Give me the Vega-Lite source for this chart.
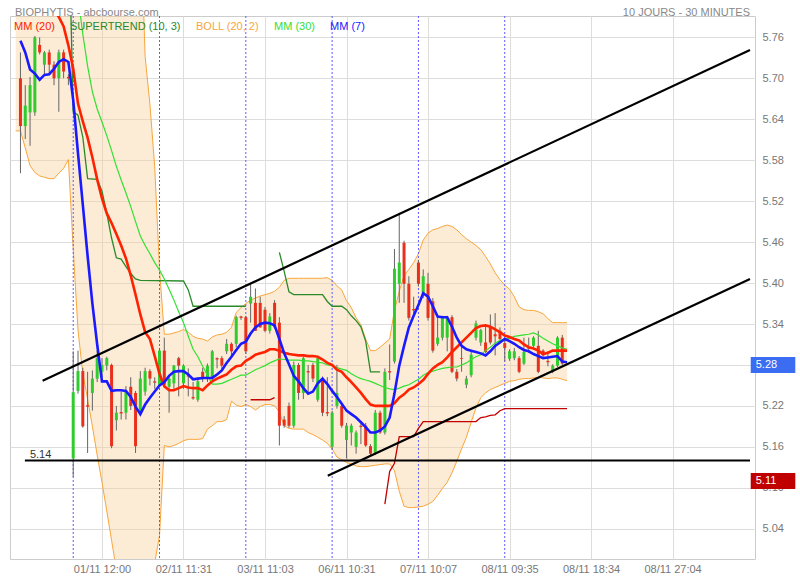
{
  "$schema": "https://vega.github.io/schema/vega-lite/v6.json",
  "width": 745,
  "height": 543,
  "autosize": "none",
  "padding": {"left": 10, "top": 16, "right": 45, "bottom": 21},
  "background": "white",
  "config": {"font": "Liberation Sans", "view": {"stroke": "#cccccc"}},
  "datasets": {
    "candles": [
      {"i":0,"o":5.700,"h":5.738,"l":5.561,"c":5.630},
      {"i":1,"o":5.630,"h":5.690,"l":5.611,"c":5.660},
      {"i":2,"o":5.650,"h":5.702,"l":5.601,"c":5.690},
      {"i":3,"o":5.650,"h":5.762,"l":5.645,"c":5.760},
      {"i":4,"o":5.749,"h":5.760,"l":5.735,"c":5.738},
      {"i":5,"o":5.720,"h":5.740,"l":5.705,"c":5.738},
      {"i":6,"o":5.738,"h":5.742,"l":5.708,"c":5.720},
      {"i":7,"o":5.720,"h":5.725,"l":5.690,"c":5.700},
      {"i":8,"o":5.700,"h":5.742,"l":5.651,"c":5.738},
      {"i":9,"o":5.738,"h":5.742,"l":5.700,"c":5.710},
      {"i":10,"o":5.702,"h":5.706,"l":5.690,"c":5.700},
      {"i":11,"o":5.143,"h":5.300,"l":5.116,"c":5.240},
      {"i":12,"o":5.242,"h":5.301,"l":5.238,"c":5.271},
      {"i":13,"o":5.271,"h":5.276,"l":5.188,"c":5.190},
      {"i":14,"o":5.221,"h":5.270,"l":5.151,"c":5.219},
      {"i":15,"o":5.239,"h":5.272,"l":5.213,"c":5.260},
      {"i":16,"o":5.260,"h":5.301,"l":5.255,"c":5.290},
      {"i":17,"o":5.270,"h":5.290,"l":5.262,"c":5.280},
      {"i":18,"o":5.279,"h":5.292,"l":5.272,"c":5.290},
      {"i":19,"o":5.280,"h":5.282,"l":5.158,"c":5.161},
      {"i":20,"o":5.199,"h":5.220,"l":5.184,"c":5.210},
      {"i":21,"o":5.211,"h":5.241,"l":5.200,"c":5.209},
      {"i":22,"o":5.210,"h":5.249,"l":5.200,"c":5.241},
      {"i":23,"o":5.248,"h":5.262,"l":5.214,"c":5.220},
      {"i":24,"o":5.239,"h":5.242,"l":5.151,"c":5.161},
      {"i":25,"o":5.210,"h":5.271,"l":5.205,"c":5.260},
      {"i":26,"o":5.241,"h":5.276,"l":5.235,"c":5.271},
      {"i":27,"o":5.271,"h":5.274,"l":5.250,"c":5.260},
      {"i":28,"o":5.256,"h":5.262,"l":5.245,"c":5.254},
      {"i":29,"o":5.251,"h":5.305,"l":5.248,"c":5.301},
      {"i":30,"o":5.301,"h":5.320,"l":5.246,"c":5.251},
      {"i":31,"o":5.248,"h":5.262,"l":5.210,"c":5.260},
      {"i":32,"o":5.253,"h":5.280,"l":5.245,"c":5.279},
      {"i":33,"o":5.290,"h":5.292,"l":5.234,"c":5.279},
      {"i":34,"o":5.253,"h":5.281,"l":5.245,"c":5.279},
      {"i":35,"o":5.265,"h":5.275,"l":5.234,"c":5.263},
      {"i":36,"o":5.233,"h":5.255,"l":5.229,"c":5.231},
      {"i":37,"o":5.229,"h":5.262,"l":5.226,"c":5.256},
      {"i":38,"o":5.270,"h":5.276,"l":5.255,"c":5.260},
      {"i":39,"o":5.260,"h":5.282,"l":5.255,"c":5.279},
      {"i":40,"o":5.260,"h":5.302,"l":5.258,"c":5.300},
      {"i":41,"o":5.290,"h":5.291,"l":5.275,"c":5.288},
      {"i":42,"o":5.290,"h":5.293,"l":5.272,"c":5.279},
      {"i":43,"o":5.300,"h":5.318,"l":5.296,"c":5.311},
      {"i":44,"o":5.311,"h":5.313,"l":5.292,"c":5.300},
      {"i":45,"o":5.311,"h":5.352,"l":5.306,"c":5.350},
      {"i":46,"o":5.351,"h":5.352,"l":5.346,"c":5.349},
      {"i":47,"o":5.350,"h":5.352,"l":5.296,"c":5.300},
      {"i":48,"o":5.370,"h":5.400,"l":5.342,"c":5.380},
      {"i":49,"o":5.371,"h":5.392,"l":5.330,"c":5.330},
      {"i":50,"o":5.371,"h":5.380,"l":5.335,"c":5.335},
      {"i":51,"o":5.361,"h":5.365,"l":5.328,"c":5.330},
      {"i":52,"o":5.330,"h":5.356,"l":5.326,"c":5.351},
      {"i":53,"o":5.371,"h":5.375,"l":5.333,"c":5.335},
      {"i":54,"o":5.342,"h":5.350,"l":5.162,"c":5.191},
      {"i":55,"o":5.200,"h":5.205,"l":5.188,"c":5.191},
      {"i":56,"o":5.220,"h":5.225,"l":5.188,"c":5.191},
      {"i":57,"o":5.191,"h":5.285,"l":5.188,"c":5.280},
      {"i":58,"o":5.280,"h":5.283,"l":5.229,"c":5.239},
      {"i":59,"o":5.239,"h":5.292,"l":5.230,"c":5.290},
      {"i":60,"o":5.271,"h":5.280,"l":5.240,"c":5.269},
      {"i":61,"o":5.280,"h":5.283,"l":5.255,"c":5.260},
      {"i":62,"o":5.229,"h":5.292,"l":5.226,"c":5.290},
      {"i":63,"o":5.260,"h":5.263,"l":5.205,"c":5.210},
      {"i":64,"o":5.211,"h":5.262,"l":5.205,"c":5.209},
      {"i":65,"o":5.160,"h":5.213,"l":5.156,"c":5.210},
      {"i":66,"o":5.220,"h":5.280,"l":5.216,"c":5.239},
      {"i":67,"o":5.220,"h":5.223,"l":5.188,"c":5.191},
      {"i":68,"o":5.170,"h":5.195,"l":5.143,"c":5.191},
      {"i":69,"o":5.181,"h":5.194,"l":5.162,"c":5.191},
      {"i":70,"o":5.160,"h":5.184,"l":5.150,"c":5.181},
      {"i":71,"o":5.191,"h":5.194,"l":5.164,"c":5.189},
      {"i":72,"o":5.191,"h":5.195,"l":5.160,"c":5.162},
      {"i":73,"o":5.161,"h":5.164,"l":5.148,"c":5.150},
      {"i":74,"o":5.150,"h":5.214,"l":5.148,"c":5.210},
      {"i":75,"o":5.210,"h":5.213,"l":5.179,"c":5.181},
      {"i":76,"o":5.181,"h":5.275,"l":5.178,"c":5.270},
      {"i":77,"o":5.271,"h":5.310,"l":5.258,"c":5.269},
      {"i":78,"o":5.285,"h":5.450,"l":5.282,"c":5.421},
      {"i":79,"o":5.399,"h":5.503,"l":5.371,"c":5.430},
      {"i":80,"o":5.459,"h":5.462,"l":5.371,"c":5.399},
      {"i":81,"o":5.399,"h":5.410,"l":5.345,"c":5.349},
      {"i":82,"o":5.362,"h":5.380,"l":5.350,"c":5.360},
      {"i":83,"o":5.430,"h":5.434,"l":5.395,"c":5.399},
      {"i":84,"o":5.383,"h":5.420,"l":5.378,"c":5.410},
      {"i":85,"o":5.399,"h":5.415,"l":5.345,"c":5.349},
      {"i":86,"o":5.373,"h":5.378,"l":5.298,"c":5.301},
      {"i":87,"o":5.311,"h":5.350,"l":5.308,"c":5.320},
      {"i":88,"o":5.320,"h":5.352,"l":5.316,"c":5.349},
      {"i":89,"o":5.320,"h":5.352,"l":5.300,"c":5.349},
      {"i":90,"o":5.350,"h":5.353,"l":5.268,"c":5.270},
      {"i":91,"o":5.270,"h":5.274,"l":5.256,"c":5.260},
      {"i":92,"o":5.290,"h":5.310,"l":5.270,"c":5.289},
      {"i":93,"o":5.251,"h":5.264,"l":5.246,"c":5.260},
      {"i":94,"o":5.265,"h":5.300,"l":5.262,"c":5.295},
      {"i":95,"o":5.320,"h":5.345,"l":5.316,"c":5.341},
      {"i":96,"o":5.313,"h":5.333,"l":5.308,"c":5.331},
      {"i":97,"o":5.313,"h":5.339,"l":5.297,"c":5.299},
      {"i":98,"o":5.335,"h":5.354,"l":5.310,"c":5.313},
      {"i":99,"o":5.325,"h":5.356,"l":5.294,"c":5.322},
      {"i":100,"o":5.330,"h":5.335,"l":5.312,"c":5.318},
      {"i":101,"o":5.312,"h":5.318,"l":5.285,"c":5.305},
      {"i":102,"o":5.289,"h":5.303,"l":5.286,"c":5.300},
      {"i":103,"o":5.290,"h":5.305,"l":5.287,"c":5.300},
      {"i":104,"o":5.290,"h":5.293,"l":5.268,"c":5.270},
      {"i":105,"o":5.282,"h":5.320,"l":5.280,"c":5.299},
      {"i":106,"o":5.306,"h":5.320,"l":5.298,"c":5.304},
      {"i":107,"o":5.308,"h":5.322,"l":5.306,"c":5.320},
      {"i":108,"o":5.308,"h":5.330,"l":5.268,"c":5.270},
      {"i":109,"o":5.301,"h":5.303,"l":5.292,"c":5.294},
      {"i":110,"o":5.286,"h":5.300,"l":5.278,"c":5.284},
      {"i":111,"o":5.270,"h":5.281,"l":5.268,"c":5.279},
      {"i":112,"o":5.279,"h":5.322,"l":5.277,"c":5.320},
      {"i":113,"o":5.320,"h":5.324,"l":5.280,"c":5.282}
    ],
    "ind": [
      {"i":-1,"hi":5.80,"lo":5.623,"mm20":null,"mm30":null,"mm7":null},
      {"i":0,"hi":5.80,"lo":5.623,"mm20":5.83,"mm30":null,"mm7":5.755},
      {"i":1,"hi":5.80,"lo":5.598,"mm20":5.83,"mm30":null,"mm7":5.738},
      {"i":2,"hi":5.80,"lo":5.572,"mm20":5.825,"mm30":null,"mm7":5.713},
      {"i":3,"hi":5.80,"lo":5.562,"mm20":5.82,"mm30":null,"mm7":5.707},
      {"i":4,"hi":5.80,"lo":5.557,"mm20":5.815,"mm30":null,"mm7":5.698},
      {"i":5,"hi":5.80,"lo":5.555,"mm20":5.81,"mm30":null,"mm7":5.705},
      {"i":6,"hi":5.80,"lo":5.553,"mm20":5.805,"mm30":null,"mm7":5.706},
      {"i":7,"hi":5.80,"lo":5.553,"mm20":5.80,"mm30":null,"mm7":5.714},
      {"i":8,"hi":5.80,"lo":5.561,"mm20":5.79,"mm30":null,"mm7":5.724},
      {"i":9,"hi":5.80,"lo":5.568,"mm20":5.776,"mm30":null,"mm7":5.728},
      {"i":10,"hi":5.80,"lo":5.581,"mm20":5.748,"mm30":null,"mm7":5.724},
      {"i":11,"hi":5.95,"lo":5.45,"mm20":5.714,"mm30":null,"mm7":5.668},
      {"i":12,"hi":5.95,"lo":5.331,"mm20":5.663,"mm30":5.82,"mm7":5.59},
      {"i":13,"hi":5.95,"lo":5.267,"mm20":5.637,"mm30":5.765,"mm7":5.515},
      {"i":14,"hi":5.95,"lo":5.23,"mm20":5.613,"mm30":5.718,"mm7":5.44},
      {"i":15,"hi":5.95,"lo":5.19,"mm20":5.584,"mm30":5.68,"mm7":5.37},
      {"i":16,"hi":5.95,"lo":5.148,"mm20":5.552,"mm30":5.655,"mm7":5.31},
      {"i":17,"hi":5.95,"lo":5.108,"mm20":5.524,"mm30":5.636,"mm7":5.256},
      {"i":18,"hi":5.95,"lo":5.066,"mm20":5.502,"mm30":5.616,"mm7":5.256},
      {"i":19,"hi":5.95,"lo":5.023,"mm20":5.488,"mm30":5.594,"mm7":5.242},
      {"i":20,"hi":5.95,"lo":4.98,"mm20":5.472,"mm30":5.571,"mm7":5.243},
      {"i":21,"hi":5.95,"lo":4.95,"mm20":5.455,"mm30":5.551,"mm7":5.243},
      {"i":22,"hi":5.95,"lo":4.93,"mm20":5.436,"mm30":5.532,"mm7":5.242},
      {"i":23,"hi":5.95,"lo":4.92,"mm20":5.411,"mm30":5.512,"mm7":5.233},
      {"i":24,"hi":5.95,"lo":4.92,"mm20":5.383,"mm30":5.49,"mm7":5.219},
      {"i":25,"hi":5.95,"lo":4.93,"mm20":5.354,"mm30":5.469,"mm7":5.208},
      {"i":26,"hi":5.732,"lo":4.95,"mm20":5.328,"mm30":5.455,"mm7":5.222},
      {"i":27,"hi":5.662,"lo":4.97,"mm20":5.318,"mm30":5.443,"mm7":5.232},
      {"i":28,"hi":5.57,"lo":4.99,"mm20":5.293,"mm30":5.43,"mm7":5.241},
      {"i":29,"hi":5.42,"lo":5.03,"mm20":5.267,"mm30":5.419,"mm7":5.25},
      {"i":30,"hi":5.325,"lo":5.162,"mm20":5.249,"mm30":5.406,"mm7":5.255},
      {"i":31,"hi":5.325,"lo":5.16,"mm20":5.243,"mm30":5.391,"mm7":5.264},
      {"i":32,"hi":5.327,"lo":5.162,"mm20":5.243,"mm30":5.375,"mm7":5.27},
      {"i":33,"hi":5.329,"lo":5.165,"mm20":5.246,"mm30":5.358,"mm7":5.271},
      {"i":34,"hi":5.332,"lo":5.169,"mm20":5.249,"mm30":5.342,"mm7":5.271},
      {"i":35,"hi":5.328,"lo":5.171,"mm20":5.247,"mm30":5.322,"mm7":5.266},
      {"i":36,"hi":5.322,"lo":5.171,"mm20":5.246,"mm30":5.303,"mm7":5.259},
      {"i":37,"hi":5.319,"lo":5.171,"mm20":5.246,"mm30":5.292,"mm7":5.26},
      {"i":38,"hi":5.318,"lo":5.172,"mm20":5.243,"mm30":5.278,"mm7":5.261},
      {"i":39,"hi":5.315,"lo":5.186,"mm20":5.25,"mm30":5.265,"mm7":5.261},
      {"i":40,"hi":5.321,"lo":5.191,"mm20":5.256,"mm30":5.252,"mm7":5.261},
      {"i":41,"hi":5.324,"lo":5.197,"mm20":5.26,"mm30":5.252,"mm7":5.266},
      {"i":42,"hi":5.325,"lo":5.197,"mm20":5.263,"mm30":5.253,"mm7":5.272},
      {"i":43,"hi":5.328,"lo":5.20,"mm20":5.266,"mm30":5.256,"mm7":5.283},
      {"i":44,"hi":5.335,"lo":5.227,"mm20":5.273,"mm30":5.259,"mm7":5.292},
      {"i":45,"hi":5.357,"lo":5.221,"mm20":5.278,"mm30":5.262,"mm7":5.302},
      {"i":46,"hi":5.364,"lo":5.219,"mm20":5.279,"mm30":5.265,"mm7":5.311},
      {"i":47,"hi":5.37,"lo":5.222,"mm20":5.286,"mm30":5.265,"mm7":5.314},
      {"i":48,"hi":5.375,"lo":5.219,"mm20":5.29,"mm30":5.269,"mm7":5.326},
      {"i":49,"hi":5.378,"lo":5.214,"mm20":5.295,"mm30":5.273,"mm7":5.335},
      {"i":50,"hi":5.381,"lo":5.219,"mm20":5.297,"mm30":5.276,"mm7":5.34},
      {"i":51,"hi":5.383,"lo":5.222,"mm20":5.299,"mm30":5.279,"mm7":5.342},
      {"i":52,"hi":5.385,"lo":5.222,"mm20":5.303,"mm30":5.283,"mm7":5.341},
      {"i":53,"hi":5.388,"lo":5.22,"mm20":5.303,"mm30":5.286,"mm7":5.338},
      {"i":54,"hi":5.394,"lo":5.211,"mm20":5.301,"mm30":5.289,"mm7":5.318},
      {"i":55,"hi":5.404,"lo":5.191,"mm20":5.298,"mm30":5.288,"mm7":5.297},
      {"i":56,"hi":5.407,"lo":5.187,"mm20":5.296,"mm30":5.287,"mm7":5.281},
      {"i":57,"hi":5.407,"lo":5.186,"mm20":5.295,"mm30":5.287,"mm7":5.264},
      {"i":58,"hi":5.407,"lo":5.186,"mm20":5.294,"mm30":5.287,"mm7":5.256},
      {"i":59,"hi":5.407,"lo":5.186,"mm20":5.294,"mm30":5.286,"mm7":5.246},
      {"i":60,"hi":5.407,"lo":5.181,"mm20":5.293,"mm30":5.286,"mm7":5.238},
      {"i":61,"hi":5.407,"lo":5.178,"mm20":5.293,"mm30":5.285,"mm7":5.241},
      {"i":62,"hi":5.407,"lo":5.174,"mm20":5.292,"mm30":5.284,"mm7":5.253},
      {"i":63,"hi":5.407,"lo":5.17,"mm20":5.288,"mm30":5.283,"mm7":5.26},
      {"i":64,"hi":5.408,"lo":5.165,"mm20":5.283,"mm30":5.28,"mm7":5.252},
      {"i":65,"hi":5.404,"lo":5.157,"mm20":5.28,"mm30":5.279,"mm7":5.242},
      {"i":66,"hi":5.396,"lo":5.145,"mm20":5.273,"mm30":5.276,"mm7":5.233},
      {"i":67,"hi":5.39,"lo":5.141,"mm20":5.27,"mm30":5.274,"mm7":5.223},
      {"i":68,"hi":5.374,"lo":5.137,"mm20":5.262,"mm30":5.272,"mm7":5.213},
      {"i":69,"hi":5.364,"lo":5.135,"mm20":5.255,"mm30":5.267,"mm7":5.208},
      {"i":70,"hi":5.349,"lo":5.132,"mm20":5.247,"mm30":5.263,"mm7":5.203},
      {"i":71,"hi":5.339,"lo":5.131,"mm20":5.239,"mm30":5.26,"mm7":5.196},
      {"i":72,"hi":5.318,"lo":5.131,"mm20":5.23,"mm30":5.258,"mm7":5.189},
      {"i":73,"hi":5.301,"lo":5.132,"mm20":5.222,"mm30":5.256,"mm7":5.181},
      {"i":74,"hi":5.301,"lo":5.133,"mm20":5.22,"mm30":5.253,"mm7":5.181},
      {"i":75,"hi":5.306,"lo":5.134,"mm20":5.22,"mm30":5.25,"mm7":5.184},
      {"i":76,"hi":5.312,"lo":5.135,"mm20":5.22,"mm30":5.247,"mm7":5.19},
      {"i":77,"hi":5.318,"lo":5.135,"mm20":5.22,"mm30":5.245,"mm7":5.203},
      {"i":78,"hi":5.36,"lo":5.125,"mm20":5.224,"mm30":5.244,"mm7":5.238},
      {"i":79,"hi":5.388,"lo":5.095,"mm20":5.232,"mm30":5.246,"mm7":5.279},
      {"i":80,"hi":5.411,"lo":5.073,"mm20":5.237,"mm30":5.249,"mm7":5.308},
      {"i":81,"hi":5.42,"lo":5.071,"mm20":5.244,"mm30":5.251,"mm7":5.335},
      {"i":82,"hi":5.43,"lo":5.071,"mm20":5.247,"mm30":5.255,"mm7":5.352},
      {"i":83,"hi":5.443,"lo":5.072,"mm20":5.252,"mm30":5.259,"mm7":5.368},
      {"i":84,"hi":5.463,"lo":5.073,"mm20":5.258,"mm30":5.265,"mm7":5.385},
      {"i":85,"hi":5.473,"lo":5.076,"mm20":5.267,"mm30":5.269,"mm7":5.38},
      {"i":86,"hi":5.478,"lo":5.08,"mm20":5.275,"mm30":5.271,"mm7":5.366},
      {"i":87,"hi":5.48,"lo":5.089,"mm20":5.28,"mm30":5.273,"mm7":5.351},
      {"i":88,"hi":5.483,"lo":5.099,"mm20":5.284,"mm30":5.275,"mm7":5.35},
      {"i":89,"hi":5.485,"lo":5.108,"mm20":5.291,"mm30":5.276,"mm7":5.35},
      {"i":90,"hi":5.483,"lo":5.122,"mm20":5.299,"mm30":5.277,"mm7":5.336},
      {"i":91,"hi":5.478,"lo":5.139,"mm20":5.306,"mm30":5.277,"mm7":5.32},
      {"i":92,"hi":5.471,"lo":5.157,"mm20":5.313,"mm30":5.28,"mm7":5.308},
      {"i":93,"hi":5.465,"lo":5.174,"mm20":5.32,"mm30":5.283,"mm7":5.303},
      {"i":94,"hi":5.46,"lo":5.196,"mm20":5.327,"mm30":5.288,"mm7":5.301},
      {"i":95,"hi":5.455,"lo":5.217,"mm20":5.334,"mm30":5.292,"mm7":5.299},
      {"i":96,"hi":5.449,"lo":5.232,"mm20":5.337,"mm30":5.295,"mm7":5.297},
      {"i":97,"hi":5.439,"lo":5.239,"mm20":5.338,"mm30":5.301,"mm7":5.294},
      {"i":98,"hi":5.428,"lo":5.244,"mm20":5.336,"mm30":5.306,"mm7":5.30},
      {"i":99,"hi":5.415,"lo":5.247,"mm20":5.332,"mm30":5.312,"mm7":5.308},
      {"i":100,"hi":5.405,"lo":5.25,"mm20":5.328,"mm30":5.316,"mm7":5.313},
      {"i":101,"hi":5.397,"lo":5.253,"mm20":5.323,"mm30":5.318,"mm7":5.318},
      {"i":102,"hi":5.391,"lo":5.256,"mm20":5.321,"mm30":5.319,"mm7":5.315},
      {"i":103,"hi":5.38,"lo":5.257,"mm20":5.318,"mm30":5.322,"mm7":5.311},
      {"i":104,"hi":5.365,"lo":5.259,"mm20":5.316,"mm30":5.323,"mm7":5.306},
      {"i":105,"hi":5.361,"lo":5.26,"mm20":5.31,"mm30":5.324,"mm7":5.302},
      {"i":106,"hi":5.36,"lo":5.26,"mm20":5.306,"mm30":5.325,"mm7":5.30},
      {"i":107,"hi":5.36,"lo":5.261,"mm20":5.304,"mm30":5.327,"mm7":5.296},
      {"i":108,"hi":5.358,"lo":5.262,"mm20":5.301,"mm30":5.324,"mm7":5.293},
      {"i":109,"hi":5.355,"lo":5.261,"mm20":5.296,"mm30":5.319,"mm7":5.29},
      {"i":110,"hi":5.348,"lo":5.26,"mm20":5.298,"mm30":5.315,"mm7":5.291},
      {"i":111,"hi":5.342,"lo":5.261,"mm20":5.301,"mm30":5.311,"mm7":5.292},
      {"i":112,"hi":5.342,"lo":5.261,"mm20":5.301,"mm30":5.308,"mm7":5.293},
      {"i":113,"hi":5.342,"lo":5.259,"mm20":5.301,"mm30":5.305,"mm7":5.285},
      {"i":114,"hi":5.342,"lo":5.257,"mm20":5.301,"mm30":5.303,"mm7":5.284}
    ],
    "supertrend": [
      {"i":10,"v":5.95,"seg":"A","sens":"baissier"},
      {"i":11,"v":5.651,"seg":"A","sens":"baissier"},
      {"i":12,"v":5.646,"seg":"A","sens":"baissier"},
      {"i":13,"v":5.614,"seg":"A","sens":"baissier"},
      {"i":14,"v":5.553,"seg":"A","sens":"baissier"},
      {"i":16,"v":5.552,"seg":"A","sens":"baissier"},
      {"i":17,"v":5.535,"seg":"A","sens":"baissier"},
      {"i":18,"v":5.502,"seg":"A","sens":"baissier"},
      {"i":19,"v":5.466,"seg":"A","sens":"baissier"},
      {"i":20,"v":5.437,"seg":"A","sens":"baissier"},
      {"i":21,"v":5.435,"seg":"A","sens":"baissier"},
      {"i":22,"v":5.424,"seg":"A","sens":"baissier"},
      {"i":23,"v":5.414,"seg":"A","sens":"baissier"},
      {"i":24,"v":5.406,"seg":"A","sens":"baissier"},
      {"i":25,"v":5.404,"seg":"A","sens":"baissier"},
      {"i":34,"v":5.403,"seg":"A","sens":"baissier"},
      {"i":35,"v":5.39,"seg":"A","sens":"baissier"},
      {"i":36,"v":5.366,"seg":"A","sens":"baissier"},
      {"i":47,"v":5.366,"seg":"A","sens":"baissier"},
      {"i":48,"v":5.229,"seg":"B","sens":"haussier"},
      {"i":52,"v":5.229,"seg":"B","sens":"haussier"},
      {"i":53,"v":5.232,"seg":"B","sens":"haussier"},
      {"i":54,"v":5.445,"seg":"C","sens":"baissier"},
      {"i":55,"v":5.417,"seg":"C","sens":"baissier"},
      {"i":56,"v":5.387,"seg":"C","sens":"baissier"},
      {"i":57,"v":5.383,"seg":"C","sens":"baissier"},
      {"i":63,"v":5.383,"seg":"C","sens":"baissier"},
      {"i":64,"v":5.373,"seg":"C","sens":"baissier"},
      {"i":65,"v":5.366,"seg":"C","sens":"baissier"},
      {"i":67,"v":5.366,"seg":"C","sens":"baissier"},
      {"i":68,"v":5.361,"seg":"C","sens":"baissier"},
      {"i":69,"v":5.352,"seg":"C","sens":"baissier"},
      {"i":70,"v":5.345,"seg":"C","sens":"baissier"},
      {"i":71,"v":5.336,"seg":"C","sens":"baissier"},
      {"i":72,"v":5.315,"seg":"C","sens":"baissier"},
      {"i":73,"v":5.27,"seg":"C","sens":"baissier"},
      {"i":75,"v":5.27,"seg":"C","sens":"baissier"},
      {"i":76,"v":5.076,"seg":"D","sens":"haussier"},
      {"i":77,"v":5.124,"seg":"D","sens":"haussier"},
      {"i":78,"v":5.136,"seg":"D","sens":"haussier"},
      {"i":79,"v":5.175,"seg":"D","sens":"haussier"},
      {"i":82,"v":5.175,"seg":"D","sens":"haussier"},
      {"i":83,"v":5.187,"seg":"D","sens":"haussier"},
      {"i":84,"v":5.197,"seg":"D","sens":"haussier"},
      {"i":95,"v":5.197,"seg":"D","sens":"haussier"},
      {"i":96,"v":5.203,"seg":"D","sens":"haussier"},
      {"i":97,"v":5.204,"seg":"D","sens":"haussier"},
      {"i":98,"v":5.206,"seg":"D","sens":"haussier"},
      {"i":99,"v":5.207,"seg":"D","sens":"haussier"},
      {"i":100,"v":5.213,"seg":"D","sens":"haussier"},
      {"i":101,"v":5.216,"seg":"D","sens":"haussier"},
      {"i":114,"v":5.216,"seg":"D","sens":"haussier"}
    ],
    "traces": [
      {"ligne":"canal haut","i":4.62,"v":5.2568},
      {"ligne":"canal haut","i":152.15,"v":5.7416},
      {"ligne":"canal bas","i":64.09,"v":5.1177},
      {"ligne":"canal bas","i":152.15,"v":5.406},
      {"ligne":"support","i":0.92,"v":5.14},
      {"ligne":"support","i":152.15,"v":5.14}
    ],
    "jours": [
      {"i":11,"jour":"01/11"},
      {"i":29,"jour":"02/11"},
      {"i":47,"jour":"03/11"},
      {"i":65,"jour":"06/11"},
      {"i":83,"jour":"07/11"},
      {"i":101,"jour":"08/11"}
    ],
    "etiquettes": [
      {"prix":5.28,"nature":"dernier"},
      {"prix":5.11,"nature":"plus bas"}
    ],
    "entete": [
      {"texte":"BIOPHYTIS - abcbourse.com","cote":"gauche"},
      {"texte":"10 JOURS - 30 MINUTES","cote":"droite"}
    ]
  },
  "layer": [
    {
      "data": {"name": "ind"},
      "mark": {"type": "area", "color": "#f8cf9c", "opacity": 0.42, "clip": true},
      "encoding": {
        "x": {
          "field": "i",
          "type": "quantitative",
          "title": null,
          "scale": {"domain": [-1.14, 152.15], "nice": false, "zero": false},
          "axis": {
            "values": [17, 34, 51, 68, 85, 102, 119, 136],
            "labelExpr": "['01/11 12:00','02/11 11:31','03/11 11:03','06/11 10:31','07/11 10:07','08/11 09:35','08/11 18:34','08/11 27:04'][round(datum.value/17)-1]",
            "grid": true,
            "gridColor": "#dddddd",
            "gridWidth": 1,
            "ticks": false,
            "domain": false,
            "labelColor": "#777777",
            "labelFontSize": 11,
            "labelFont": "Liberation Sans",
            "labelPadding": 4,
            "labelFlush": false,
            "labelOverlap": false
          }
        },
        "y": {
          "field": "hi",
          "type": "quantitative",
          "title": null,
          "scale": {"domain": [5.003, 5.784], "nice": false, "zero": false},
          "axis": {
            "orient": "right",
            "values": [5.04, 5.10, 5.16, 5.22, 5.28, 5.34, 5.40, 5.46, 5.52, 5.58, 5.64, 5.70, 5.76],
            "format": ".2f",
            "labelExpr": "abs(datum.value - 5.28) < 0.001 ? '' : datum.label",
            "grid": true,
            "gridColor": "#dddddd",
            "gridWidth": 1,
            "ticks": false,
            "domain": false,
            "labelColor": "#777777",
            "labelFontSize": 11,
            "labelFont": "Liberation Sans",
            "labelPadding": 7,
            "labelFlush": false,
            "labelOverlap": false
          }
        },
        "y2": {"field": "lo"}
      }
    },
    {
      "data": {"name": "ind"},
      "mark": {"type": "line", "strokeWidth": 1, "clip": true},
      "encoding": {
        "x": {"field": "i", "type": "quantitative", "title": null},
        "y": {"field": "hi", "type": "quantitative", "title": null},
        "color": {"datum": "BOLL (20, 2)"}
      }
    },
    {
      "data": {"name": "ind"},
      "mark": {"type": "line", "strokeWidth": 1, "clip": true},
      "encoding": {
        "x": {"field": "i", "type": "quantitative", "title": null},
        "y": {"field": "lo", "type": "quantitative", "title": null},
        "color": {"datum": "BOLL (20, 2)"}
      }
    },
    {
      "data": {"name": "jours"},
      "mark": {"type": "rule", "color": "#5b5bff", "strokeWidth": 1, "strokeDash": [2, 2]},
      "encoding": {
        "x": {"field": "i", "type": "quantitative", "title": null}
      }
    },
    {
      "data": {"name": "candles"},
      "mark": {"type": "rule", "color": "#666666", "strokeWidth": 1, "clip": true},
      "encoding": {
        "x": {"field": "i", "type": "quantitative", "title": null},
        "y": {"field": "l", "type": "quantitative", "title": null},
        "y2": {"field": "h"}
      }
    },
    {
      "data": {"name": "candles"},
      "mark": {"type": "bar", "width": 3, "clip": true},
      "encoding": {
        "x": {"field": "i", "type": "quantitative", "title": null},
        "y": {"field": "o", "type": "quantitative", "title": null},
        "y2": {"field": "c"},
        "color": {"condition": {"test": "datum.c >= datum.o", "value": "#2fcc2f"}, "value": "#e8301c"}
      }
    },
    {
      "data": {"name": "supertrend"},
      "transform": [{"filter": "datum.sens == 'baissier'"}],
      "mark": {"type": "line", "strokeWidth": 1.3, "clip": true},
      "encoding": {
        "x": {"field": "i", "type": "quantitative", "title": null},
        "y": {"field": "v", "type": "quantitative", "title": null},
        "detail": {"field": "seg"},
        "color": {"datum": "SUPERTREND (10, 3)"}
      }
    },
    {
      "data": {"name": "supertrend"},
      "transform": [{"filter": "datum.sens == 'haussier'"}],
      "mark": {"type": "line", "strokeWidth": 1.3, "clip": true, "color": "#c40000"},
      "encoding": {
        "x": {"field": "i", "type": "quantitative", "title": null},
        "y": {"field": "v", "type": "quantitative", "title": null},
        "detail": {"field": "seg"}
      }
    },
    {
      "data": {"name": "ind"},
      "mark": {"type": "line", "strokeWidth": 1.2, "clip": true},
      "encoding": {
        "x": {"field": "i", "type": "quantitative", "title": null},
        "y": {"field": "mm30", "type": "quantitative", "title": null},
        "color": {"datum": "MM (30)"}
      }
    },
    {
      "data": {"name": "ind"},
      "mark": {"type": "line", "strokeWidth": 2.6, "clip": true},
      "encoding": {
        "x": {"field": "i", "type": "quantitative", "title": null},
        "y": {"field": "mm20", "type": "quantitative", "title": null},
        "color": {
          "datum": "MM (20)",
          "scale": {
            "domain": ["MM (20)", "SUPERTREND (10, 3)", "BOLL (20, 2)", "MM (30)", "MM (7)"],
            "range": ["#ff2200", "#2a8a2a", "#f9a63c", "#33e033", "#1a1aff"]
          },
          "legend": {
            "orient": "none",
            "legendX": -7,
            "legendY": 5,
            "direction": "horizontal",
            "title": null,
            "symbolSize": 0,
            "symbolOpacity": 0,
            "symbolStrokeWidth": 0,
            "labelOffset": 0,
            "columnPadding": 4,
            "labelFontSize": 11,
            "labelFont": "Liberation Sans",
            "padding": 0,
            "zindex": 1,
            "encode": {"labels": {"update": {"fill": {"scale": "color", "field": "value"}}}}
          }
        }
      }
    },
    {
      "data": {"name": "ind"},
      "mark": {"type": "line", "strokeWidth": 2.6, "clip": true},
      "encoding": {
        "x": {"field": "i", "type": "quantitative", "title": null},
        "y": {"field": "mm7", "type": "quantitative", "title": null},
        "color": {"datum": "MM (7)"}
      }
    },
    {
      "data": {"name": "traces"},
      "mark": {"type": "line", "color": "#000000", "strokeWidth": 2.2, "clip": true},
      "encoding": {
        "x": {"field": "i", "type": "quantitative", "title": null},
        "y": {"field": "v", "type": "quantitative", "title": null},
        "detail": {"field": "ligne"}
      }
    },
    {
      "data": {"name": "traces"},
      "transform": [{"filter": "datum.ligne == 'support' && datum.i < 10"}],
      "mark": {"type": "text", "align": "left", "baseline": "middle", "dx": 5, "dy": -6, "fontSize": 11, "color": "#333333"},
      "encoding": {
        "x": {"field": "i", "type": "quantitative", "title": null},
        "y": {"field": "v", "type": "quantitative", "title": null},
        "text": {"field": "v", "format": ".2f"}
      }
    },
    {
      "data": {"name": "etiquettes"},
      "mark": {"type": "bar", "height": 16, "clip": false},
      "encoding": {
        "x": {"datum": 152.3},
        "x2": {"datum": 161.6},
        "y": {"field": "prix", "type": "quantitative", "title": null},
        "color": {"condition": {"test": "datum.nature == 'dernier'", "value": "#3a6df2"}, "value": "#c00000"}
      }
    },
    {
      "data": {"name": "etiquettes"},
      "mark": {"type": "text", "align": "left", "baseline": "middle", "dx": 5, "fontSize": 11, "color": "#ffffff", "clip": false},
      "encoding": {
        "x": {"datum": 152.3},
        "y": {"field": "prix", "type": "quantitative", "title": null},
        "text": {"field": "prix", "format": ".2f"}
      }
    },
    {
      "data": {"name": "entete"},
      "transform": [{"filter": "datum.cote == 'gauche'"}],
      "mark": {"type": "text", "align": "left", "baseline": "middle", "dy": -8, "fontSize": 11, "color": "#888888", "clip": false},
      "encoding": {
        "x": {"datum": -1.14},
        "y": {"datum": 5.784},
        "text": {"field": "texte"}
      }
    },
    {
      "data": {"name": "entete"},
      "transform": [{"filter": "datum.cote == 'droite'"}],
      "mark": {"type": "text", "align": "right", "baseline": "middle", "dy": -8, "fontSize": 11, "color": "#888888", "clip": false},
      "encoding": {
        "x": {"datum": 152.15},
        "y": {"datum": 5.784},
        "text": {"field": "texte"}
      }
    }
  ]
}
